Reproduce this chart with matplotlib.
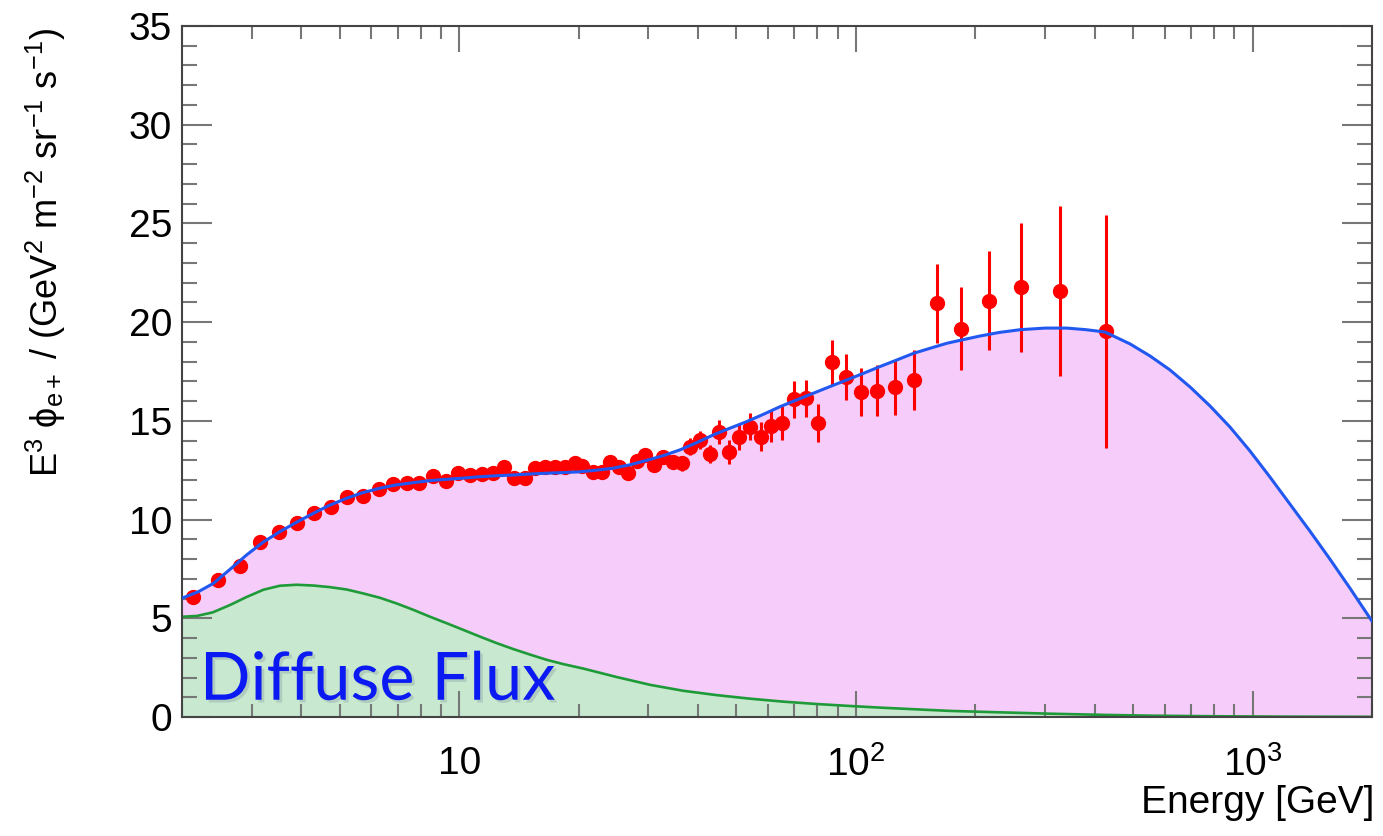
import matplotlib
matplotlib.use('Agg')
import matplotlib.pyplot as plt
import matplotlib.ticker as mticker
import matplotlib.patheffects as pe

plt.rcParams['font.family'] = 'Liberation Sans'
plt.rcParams['mathtext.fontset'] = 'custom'
plt.rcParams['mathtext.rm'] = 'Liberation Sans'
plt.rcParams['mathtext.it'] = 'Liberation Sans:italic'
plt.rcParams['mathtext.bf'] = 'Liberation Sans:bold'

# measured positron flux (E^3 * phi)
energy = [2.128, 2.460, 2.801, 3.146, 3.518, 3.893, 4.311, 4.749, 5.203, 5.708,
          6.276, 6.796, 7.371, 7.930, 8.602, 9.244, 9.910, 10.64, 11.39, 12.18,
          12.97, 13.77, 14.65, 15.52, 16.45, 17.43, 18.48, 19.58, 20.36, 21.77,
          22.86, 23.99, 25.32, 26.68, 28.02, 29.39, 30.97, 32.69, 34.64, 36.37,
          38.16, 40.45, 42.87, 45.25, 47.96, 50.82, 54.07, 57.52, 60.97, 65.02,
          69.83, 74.72, 80.38, 87.18, 94.41, 102.8, 112.8, 125.5, 140.1, 159.8,
          184.0, 216.6, 260.8, 327.0, 428.3]
flux = [6.09, 6.94, 7.66, 8.85, 9.36, 9.81, 10.32, 10.65, 11.16, 11.20,
        11.53, 11.80, 11.84, 11.87, 12.22, 11.97, 12.35, 12.26, 12.31, 12.35,
        12.65, 12.09, 12.09, 12.60, 12.68, 12.65, 12.68, 12.85, 12.73, 12.43,
        12.43, 12.93, 12.68, 12.35, 12.97, 13.27, 12.77, 13.19, 12.90, 12.85,
        13.69, 14.03, 13.32, 14.45, 13.41, 14.17, 14.71, 14.20, 14.74, 14.88,
        16.09, 16.14, 14.91, 17.97, 17.24, 16.48, 16.53, 16.70, 17.07, 20.96,
        19.66, 21.09, 21.76, 21.56, 19.53]
flux_err = [0.10, 0.10, 0.10, 0.10, 0.10, 0.10, 0.10, 0.10, 0.10, 0.12,
            0.12, 0.12, 0.13, 0.13, 0.14, 0.14, 0.15, 0.15, 0.16, 0.16,
            0.17, 0.18, 0.18, 0.19, 0.20, 0.20, 0.21, 0.22, 0.22, 0.23,
            0.24, 0.25, 0.26, 0.27, 0.28, 0.30, 0.31, 0.33, 0.35, 0.37,
            0.42, 0.45, 0.47, 0.60, 0.60, 0.65, 0.70, 0.72, 0.80, 0.85,
            0.95, 0.95, 0.97, 1.13, 1.17, 1.22, 1.30, 1.40, 1.50, 2.00,
            2.10, 2.50, 3.25, 4.30, 5.90]

# total model curve
model_energy = [2.0, 2.2, 2.4, 2.65, 2.91, 3.2, 3.53, 3.9, 4.29, 4.7,
                5.2, 5.7, 6.31, 6.9, 7.65, 8.4, 9.29, 10.2, 11.27, 12.4,
                13.7, 15.1, 16.6, 18.3, 20.1, 22.1, 24.4, 27.0, 29.7, 32.8,
                36.0, 39.7, 43.7, 48.0, 53.0, 58.4, 64.4, 70.9, 78.1, 86.1,
                94.8, 104.5, 115, 127, 139.7, 154, 169.5, 187, 205.7, 230,
                260, 300, 340, 380, 424.6, 490.9, 551.3, 619.2, 695.6, 780.9,
                877.1, 984.9, 1106, 1242, 1395, 1567, 1760, 2000]
model_total = [6.02, 6.35, 6.77, 7.50, 8.21, 8.85, 9.39, 9.88, 10.32, 10.72,
               11.08, 11.36, 11.59, 11.75, 11.87, 11.97, 12.04, 12.10, 12.17, 12.22,
               12.26, 12.31, 12.35, 12.38, 12.42, 12.50, 12.60, 12.78, 13.00, 13.25,
               13.53, 13.90, 14.29, 14.62, 14.96, 15.33, 15.72, 16.06, 16.40, 16.74,
               17.07, 17.41, 17.75, 18.09, 18.42, 18.68, 18.93, 19.12, 19.30, 19.48,
               19.62, 19.70, 19.70, 19.62, 19.50, 18.90, 18.29, 17.58, 16.72, 15.76,
               14.69, 13.48, 12.16, 10.79, 9.42, 8.00, 6.53, 4.86]

# diffuse component
diffuse_energy = [2.0, 2.18, 2.39, 2.64, 2.91, 3.21, 3.53, 3.89, 4.29, 4.72,
                  5.2, 5.73, 6.31, 6.96, 7.66, 8.44, 9.3, 10.25, 11.29, 12.44,
                  13.7, 15.1, 16.6, 18.3, 20.6, 24.9, 30.3, 36.7, 44.6, 54.1,
                  65.6, 79.6, 96.6, 117, 142, 173, 220, 308, 420, 551,
                  800, 1200, 2000]
diffuse_flux = [5.08, 5.12, 5.30, 5.67, 6.08, 6.45, 6.65, 6.70, 6.66, 6.58,
                6.46, 6.26, 6.04, 5.75, 5.43, 5.08, 4.75, 4.41, 4.07, 3.74,
                3.44, 3.16, 2.90, 2.68, 2.45, 2.03, 1.63, 1.33, 1.11, 0.93,
                0.78, 0.66, 0.56, 0.47, 0.39, 0.31, 0.25, 0.17, 0.11, 0.07,
                0.04, 0.02, 0.01]

x_ticks = [10, 100, 1000]
x_tick_labels = ['10', r'$10^{2}$', r'$10^{3}$']

fig = plt.figure(figsize=(13.83, 8.36), dpi=100)
ax = fig.add_axes([0.1316, 0.1423, 0.8604, 0.8266])

ax.fill_between(model_energy, 0, model_total, color='#F6CCFA', lw=0, zorder=1)
ax.fill_between(diffuse_energy, 0, diffuse_flux, color='#C8E8CF', lw=0, zorder=1.2)
ax.plot(diffuse_energy, diffuse_flux, color='#1F9A38', lw=1.9, zorder=2)
ax.errorbar(energy, flux, yerr=flux_err, fmt='o', color='#FF0000', ms=10,
            elinewidth=2.2, capsize=0, zorder=3)
ax.plot(model_energy, model_total, color='#2158F0', lw=2.2, zorder=4)

ax.set_xscale('log')
ax.set_xlim(2, 2000)
ax.set_ylim(0, 35)

ax.xaxis.set_major_locator(mticker.FixedLocator(x_ticks))
ax.xaxis.set_major_formatter(mticker.FixedFormatter(x_tick_labels))
ax.xaxis.set_minor_locator(mticker.LogLocator(base=10, subs=range(2, 10)))
ax.xaxis.set_minor_formatter(mticker.NullFormatter())
ax.yaxis.set_major_locator(mticker.MultipleLocator(5))
ax.yaxis.set_minor_locator(mticker.MultipleLocator(1))

ax.tick_params(which='both', direction='in', top=True, right=True,
               color='#777777', width=1.5, labelsize=28, labelcolor='black')
ax.tick_params(axis='x', which='major', length=19, pad=21)
ax.tick_params(axis='x', which='minor', length=9.5)
ax.tick_params(axis='y', which='major', length=21.5, pad=7)
ax.tick_params(axis='y', which='minor', length=10.5)

for s in ax.spines.values():
    s.set_color('#444444')
    s.set_linewidth(1.5)

ax.text(0.015, 0.025, 'Diffuse Flux', transform=ax.transAxes, family='Lato',
        fontsize=48, color='#0B1AF2', va='baseline', ha='left', zorder=5,
        path_effects=[pe.withSimplePatchShadow(offset=(2, -2), alpha=0.12)])

fig.text(0.9935, 0.0395, 'Energy [GeV]', ha='right', va='center', fontsize=28)
fig.text(0.033, 0.966,
         r'E$^{3}$ $\mathrm{\phi}_{\mathrm{e+}}$ / (GeV$^{2}$ m$^{-2}$ sr$^{-1}$ s$^{-1}$)',
         rotation=90, ha='center', va='top', fontsize=26)

fig.savefig('out.png', dpi=100)
